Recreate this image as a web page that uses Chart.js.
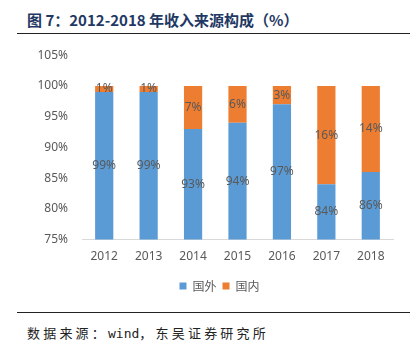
<!DOCTYPE html>
<html>
<head>
<meta charset="utf-8">
<script src="https://cdn.jsdelivr.net/npm/chart.js@4.4.1/dist/chart.umd.min.js"></script>
<style>
  body { margin: 0; background: #fff; }
  #wrap { position: relative; width: 420px; height: 346px; overflow: hidden; }
  #title {
    position: absolute; left: 27px; top: 9px;
    font: bold 15px "Noto Sans CJK SC", sans-serif; color: #1F3864;
  }
  .rule { position: absolute; left: 17px; width: 393px; height: 0; border-top: 1.5px solid #222; }
  #source {
    position: absolute; left: 27px; top: 323px;
    font: 13px "DejaVu Sans Mono", "Noto Sans CJK SC", monospace; color: #222; letter-spacing: 3.2px;
  }
  #source span { letter-spacing: 0; }
  #chartBox { position: absolute; left: 0; top: 34px; width: 420px; height: 268px; }
</style>
</head>
<body>
<div id="wrap">
  <div id="title">图 7：2012-2018 年收入来源构成（%）</div>
  <div class="rule" style="top:33px"></div>
  <div id="chartBox"><canvas id="mixChart"></canvas></div>
  <div class="rule" style="top:312px"></div>
  <div id="source">数据来源：<span>wind</span>，东吴证券研究所</div>
</div>
<script>
// revenue mix by year, in percent
const years = ['2012', '2013', '2014', '2015', '2016', '2017', '2018'];
const overseas = [99, 99, 93, 94, 97, 84, 86];
const domestic = [1, 1, 7, 6, 3, 16, 14];
const yTicks = [75, 80, 85, 90, 95, 100, 105];

const TEXT = '#595959';
const PAD_LEFT = 30;
const LEGEND_SHIFT = 8;

// value labels centred on the visible part of each bar segment
const segmentLabels = {
    id: 'segmentLabels',
    afterDatasetsDraw(chart) {
        const { ctx, chartArea } = chart;
        ctx.save();
        ctx.font = '12px "Noto Sans", sans-serif';
        ctx.fillStyle = TEXT;
        ctx.textAlign = 'center';
        ctx.textBaseline = 'middle';
        chart.data.datasets.forEach((ds, i) => {
            const meta = chart.getDatasetMeta(i);
            meta.data.forEach((bar, j) => {
                const top = Math.max(Math.min(bar.y, bar.base), chartArea.top);
                const bottom = Math.min(Math.max(bar.y, bar.base), chartArea.bottom);
                ctx.fillText(ds.data[j] + '%', bar.x, (top + bottom) / 2);
            });
        });
        ctx.restore();
    }
};

// nudge the legend a little to the right of the canvas centre
const legendNudge = {
    id: 'legendNudge',
    afterLayout(chart) {
        const lg = chart.legend;
        if (!lg) return;
        lg.left += LEGEND_SHIFT;
        lg.right += LEGEND_SHIFT;
    }
};

new Chart(document.getElementById('mixChart'), {
    type: 'bar',
    data: {
        labels: years,
        datasets: [
            { label: '国外', data: overseas, backgroundColor: '#5B9BD5', categoryPercentage: 1, barPercentage: 0.41 },
            { label: '国内', data: domestic, backgroundColor: '#ED7D31', categoryPercentage: 1, barPercentage: 0.41 }
        ]
    },
    options: {
        responsive: true,
        maintainAspectRatio: false,
        animation: false,
        layout: { padding: { left: PAD_LEFT, right: 27, top: 4, bottom: 0 } },
        plugins: {
            legend: {
                position: 'bottom',
                labels: {
                    boxWidth: 7, boxHeight: 7, color: TEXT, padding: 6,
                    font: { size: 12, family: '"Noto Sans CJK SC", sans-serif' }
                }
            },
            tooltip: { enabled: false }
        },
        scales: {
            x: {
                stacked: true,
                grid: { display: false, drawTicks: false },
                border: { color: '#D9D9D9' },
                ticks: { color: TEXT, padding: 10, font: { size: 12, family: '"Noto Sans", sans-serif' } }
            },
            y: {
                stacked: true,
                min: 75, max: 105,
                afterBuildTicks: axis => { axis.ticks = yTicks.map(v => ({ value: v })); },
                afterFit: axis => { axis.width = 82 - PAD_LEFT; },
                grid: { display: false, drawTicks: false },
                border: { display: false },
                ticks: {
                    color: TEXT, padding: 14,
                    font: { size: 12, family: '"Noto Sans", sans-serif' },
                    callback: v => v + '%'
                }
            }
        }
    },
    plugins: [segmentLabels, legendNudge]
});
</script>
</body>
</html>
